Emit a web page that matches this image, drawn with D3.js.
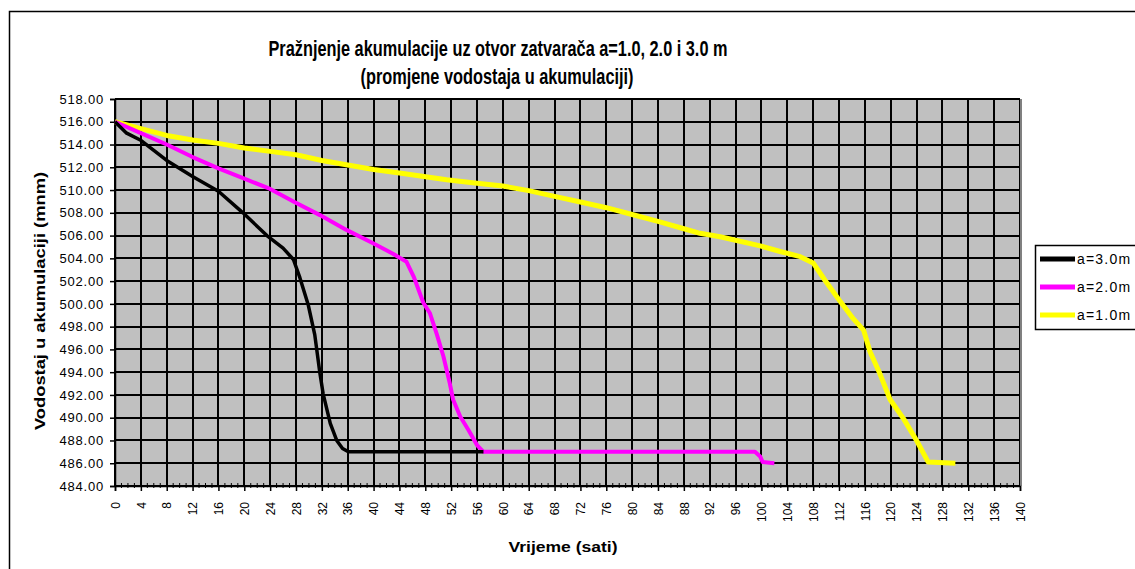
<!DOCTYPE html>
<html>
<head>
<meta charset="utf-8">
<script src="https://cdn.jsdelivr.net/npm/d3@7/dist/d3.min.js"></script>
<style>
  html, body { margin: 0; padding: 0; background: #fff; overflow: hidden; }
  svg { display: block; }
  text { font-family: "Liberation Sans", Arial, sans-serif; fill: #000; }
</style>
</head>
<body>
<svg id="chart" width="1135" height="569"></svg>
<script>
// Water level in the reservoir (m a.s.l.) vs. time (hours) for three gate openings
const hours30 = [0, 1.8, 3.9, 8, 12, 16, 19.8, 23.5, 26, 27.6, 28.6, 29.9, 30.9, 31.7, 32.2, 33.3, 34.3, 35.2, 36.1, 57];
const level30 = [516, 515, 514.4, 512.6, 511.2, 509.9, 508.0, 506.0, 504.9, 503.9, 502.3, 499.9, 497.3, 493.9, 492.1, 489.5, 488.0, 487.3, 487.0, 487.0];

const hours20 = [0, 4, 8, 12, 16, 20, 24, 27.6, 31.7, 35.8, 40, 43, 45.1, 46.2, 47.7, 48.7, 49.8, 50.8, 51.8, 52.3, 53.4, 54.7, 56, 57, 99, 99.8, 100.2, 102];
const level20 = [516, 515, 514, 512.9, 511.9, 511, 510.1, 509, 507.8, 506.5, 505.3, 504.4, 503.7, 502.4, 500.1, 499.2, 497.3, 495.4, 493, 491.6, 490.1, 488.9, 487.6, 487, 487, 486.6, 486.1, 486];

const hours10 = [0, 4, 8, 12, 16, 20, 24, 28, 32, 36, 40, 44, 51.3, 56, 60, 64, 68, 72, 76, 80, 84, 88, 90.5, 93.6, 96.7, 99.8, 102.9, 106, 108, 109.8, 112.2, 114.2, 115.8, 116.8, 118.3, 119.9, 122, 124, 125.8, 130];
const level10 = [516, 515.4, 514.8, 514.4, 514.1, 513.7, 513.4, 513.1, 512.6, 512.2, 511.8, 511.5, 510.9, 510.6, 510.35, 509.95, 509.45, 508.95, 508.45, 507.85, 507.25, 506.6, 506.2, 505.9, 505.5, 505.1, 504.6, 504.15, 503.6, 502.1, 500.2, 498.7, 497.7, 495.8, 493.9, 491.6, 489.9, 488.0, 486.1, 486];

const seriesNames = ["a=3.0m", "a=2.0m", "a=1.0m"];
const seriesColors = ["#000000", "#ff00ff", "#ffff00"];
const seriesWidths = [3.5, 4, 5];

const xTicks = d3.range(0, 141, 4);
const xMinorTicks = d3.range(0, 141, 1);
const yTicks = d3.range(484, 518.01, 2);

const titleLine1 = "Pražnjenje akumulacije uz otvor zatvarača a=1.0, 2.0 i 3.0 m";
const titleLine2 = "(promjene vodostaja u akumulaciji)";
const xTitle = "Vrijeme (sati)";
const yTitle = "Vodostaj u akumulaciji (mnm)";

const series = [
  { name: seriesNames[0], color: seriesColors[0], width: seriesWidths[0], pts: hours30.map((t, i) => [t, level30[i]]) },
  { name: seriesNames[1], color: seriesColors[1], width: seriesWidths[1], pts: hours20.map((t, i) => [t, level20[i]]) },
  { name: seriesNames[2], color: seriesColors[2], width: seriesWidths[2], pts: hours10.map((t, i) => [t, level10[i]]) }
];

const svg = d3.select("#chart");
const plot = { left: 115, right: 1020, top: 99, bottom: 486 };

const x = d3.scaleLinear().domain([0, 140]).range([plot.left, plot.right]);
const y = d3.scaleLinear().domain([484, 518]).range([plot.bottom, plot.top]);

// outer chart frame
svg.append("rect")
  .attr("x", 9.5).attr("y", 11.5)
  .attr("width", 1140).attr("height", 600)
  .attr("fill", "#fff").attr("stroke", "#000").attr("stroke-width", 1.5);

// plot area
svg.append("rect")
  .attr("x", plot.left).attr("y", plot.top)
  .attr("width", plot.right - plot.left).attr("height", plot.bottom - plot.top)
  .attr("fill", "#c0c0c0");

// grid
const grid = svg.append("g").attr("stroke", "#000").attr("stroke-width", 2)
  .attr("shape-rendering", "crispEdges");
grid.selectAll("line.v").data(xTicks).join("line")
  .attr("x1", d => Math.round(x(d))).attr("x2", d => Math.round(x(d)))
  .attr("y1", plot.top).attr("y2", plot.bottom);
grid.selectAll("line.h").data(yTicks).join("line")
  .attr("x1", plot.left).attr("x2", plot.right)
  .attr("y1", d => Math.round(y(d))).attr("y2", d => Math.round(y(d)));

// right edge of plot area
svg.append("line")
  .attr("x1", plot.right + 1).attr("x2", plot.right + 1)
  .attr("y1", plot.top).attr("y2", plot.bottom)
  .attr("stroke", "#808080").attr("stroke-width", 2);

// axes
const yAxis = d3.axisLeft(y).tickValues(yTicks).tickFormat(d3.format(".2f")).tickSize(5).tickPadding(6);
const gy = svg.append("g").attr("transform", `translate(${plot.left},0)`).call(yAxis);
gy.select(".domain").attr("stroke", "#000").attr("stroke-width", 1.5);
gy.selectAll(".tick line").attr("stroke", "#000").attr("stroke-width", 1.5);
gy.selectAll(".tick text")
  .style("font-family", '"Liberation Sans", Arial, sans-serif')
  .style("font-size", "13px").style("letter-spacing", "0.8px").attr("fill", "#000");

const xAxis = d3.axisBottom(x).tickValues(xTicks).tickFormat(d3.format("d")).tickSize(5).tickPadding(0);
const gx = svg.append("g").attr("transform", `translate(0,${plot.bottom})`).call(xAxis);
gx.select(".domain").attr("stroke", "#000").attr("stroke-width", 1.5);
gx.selectAll(".tick line").attr("stroke", "#000").attr("stroke-width", 1.5);
gx.selectAll(".tick text")
  .style("font-family", '"Liberation Sans", Arial, sans-serif')
  .style("font-size", "12px").attr("fill", "#000")
  .attr("text-anchor", "end")
  .attr("dy", "0.35em")
  .attr("transform", "translate(0,16) rotate(-90)")
  .attr("x", 0).attr("y", 0);

// minor ticks across the time axis
svg.append("g").attr("stroke", "#000").attr("stroke-width", 1)
  .selectAll("line").data(xMinorTicks.filter(d => d % 4 !== 0)).join("line")
  .attr("x1", d => x(d)).attr("x2", d => x(d))
  .attr("y1", plot.bottom - 3).attr("y2", plot.bottom + 2);

// series lines
const line = d3.line().x(d => x(d[0])).y(d => y(d[1]));
svg.append("g").selectAll("path").data(series.slice().reverse()).join("path")
  .attr("d", d => line(d.pts))
  .attr("fill", "none")
  .attr("stroke", d => d.color)
  .attr("stroke-width", d => d.width)
  .attr("stroke-linejoin", "round")
  .attr("stroke-linecap", "butt");

// titles
svg.append("text")
  .attr("x", 498).attr("y", 56)
  .attr("text-anchor", "middle")
  .attr("textLength", 459).attr("lengthAdjust", "spacingAndGlyphs")
  .style("font-family", '"Liberation Sans Narrow", "Liberation Sans", Arial, sans-serif')
  .style("font-size", "22px").style("font-weight", "bold").attr("fill", "#111")
  .text(titleLine1);
svg.append("text")
  .attr("x", 497).attr("y", 84)
  .attr("text-anchor", "middle")
  .attr("textLength", 273).attr("lengthAdjust", "spacingAndGlyphs")
  .style("font-family", '"Liberation Sans Narrow", "Liberation Sans", Arial, sans-serif')
  .style("font-size", "22px").style("font-weight", "bold").attr("fill", "#111")
  .text(titleLine2);

svg.append("text")
  .attr("x", 563).attr("y", 552)
  .attr("text-anchor", "middle")
  .attr("textLength", 109).attr("lengthAdjust", "spacingAndGlyphs")
  .style("font-size", "14px").style("font-weight", "bold")
  .text(xTitle);

svg.append("text")
  .attr("transform", "translate(45,301) rotate(-90)")
  .attr("text-anchor", "middle")
  .attr("textLength", 258).attr("lengthAdjust", "spacingAndGlyphs")
  .style("font-size", "14px").style("font-weight", "bold")
  .text(yTitle);

// legend
const legend = svg.append("g");
legend.append("rect")
  .attr("x", 1035.5).attr("y", 245.5)
  .attr("width", 120).attr("height", 84)
  .attr("fill", "#fff").attr("stroke", "#000").attr("stroke-width", 1.5);
const rows = legend.selectAll("g.row").data(series).join("g")
  .attr("transform", (d, i) => `translate(0,${259 + i * 28})`);
rows.append("line")
  .attr("x1", 1040).attr("x2", 1075).attr("y1", 0).attr("y2", 0)
  .attr("stroke", d => d.color).attr("stroke-width", 5);
rows.append("text")
  .attr("x", 1077).attr("y", 5)
  .style("font-size", "14px").style("letter-spacing", "1.2px")
  .attr("fill", "#222")
  .text(d => d.name);
</script>
</body>
</html>
